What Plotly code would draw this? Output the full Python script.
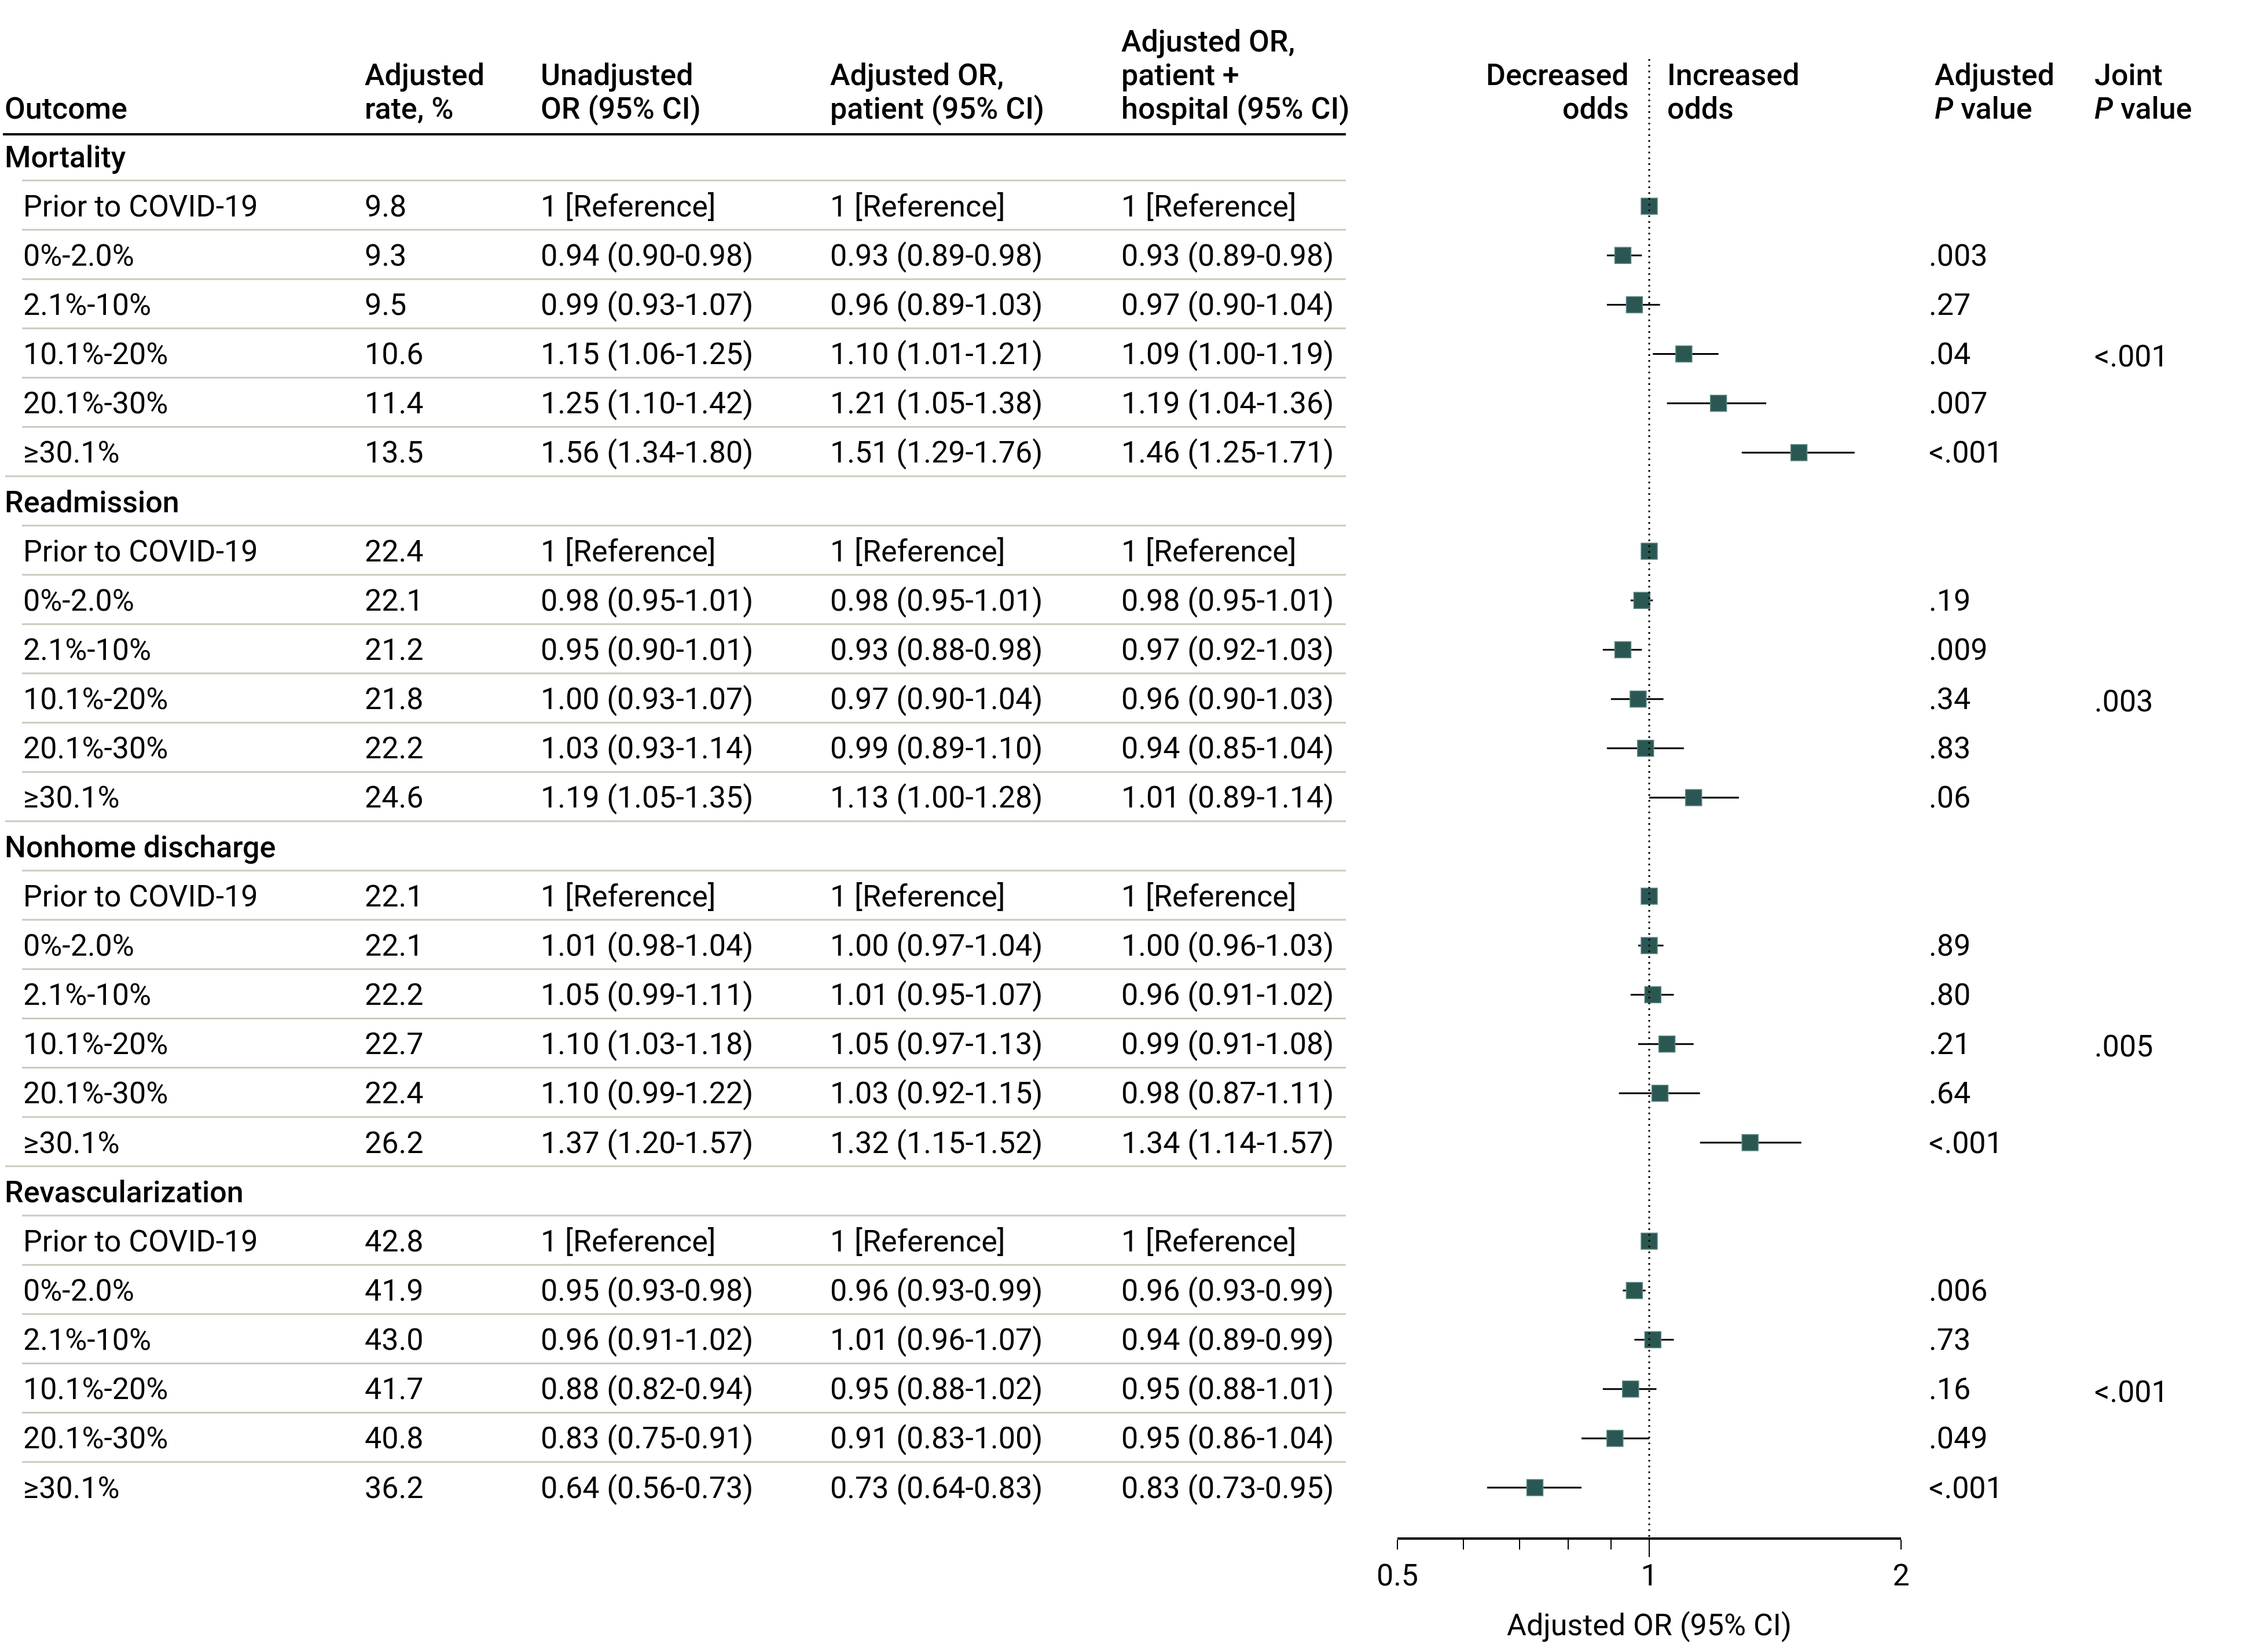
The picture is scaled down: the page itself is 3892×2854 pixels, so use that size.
import plotly.graph_objects as go

# ---------------- data ----------------
outcomes = ["Mortality", "Readmission", "Nonhome discharge", "Revascularization"]
strata = ["Prior to COVID-19", "0%-2.0%", "2.1%-10%", "10.1%-20%", "20.1%-30%", "≥30.1%"]

# values listed outcome by outcome (Mortality, Readmission, Nonhome discharge, Revascularization),
# each with the 6 strata in order; None = reference group
adj_rate = [9.8, 9.3, 9.5, 10.6, 11.4, 13.5,
            22.4, 22.1, 21.2, 21.8, 22.2, 24.6,
            22.1, 22.1, 22.2, 22.7, 22.4, 26.2,
            42.8, 41.9, 43.0, 41.7, 40.8, 36.2]

unadj_or = [None, 0.94, 0.99, 1.15, 1.25, 1.56,
            None, 0.98, 0.95, 1.00, 1.03, 1.19,
            None, 1.01, 1.05, 1.10, 1.10, 1.37,
            None, 0.95, 0.96, 0.88, 0.83, 0.64]
unadj_lo = [None, 0.90, 0.93, 1.06, 1.10, 1.34,
            None, 0.95, 0.90, 0.93, 0.93, 1.05,
            None, 0.98, 0.99, 1.03, 0.99, 1.20,
            None, 0.93, 0.91, 0.82, 0.75, 0.56]
unadj_hi = [None, 0.98, 1.07, 1.25, 1.42, 1.80,
            None, 1.01, 1.01, 1.07, 1.14, 1.35,
            None, 1.04, 1.11, 1.18, 1.22, 1.57,
            None, 0.98, 1.02, 0.94, 0.91, 0.73]

pat_or = [None, 0.93, 0.96, 1.10, 1.21, 1.51,
          None, 0.98, 0.93, 0.97, 0.99, 1.13,
          None, 1.00, 1.01, 1.05, 1.03, 1.32,
          None, 0.96, 1.01, 0.95, 0.91, 0.73]
pat_lo = [None, 0.89, 0.89, 1.01, 1.05, 1.29,
          None, 0.95, 0.88, 0.90, 0.89, 1.00,
          None, 0.97, 0.95, 0.97, 0.92, 1.15,
          None, 0.93, 0.96, 0.88, 0.83, 0.64]
pat_hi = [None, 0.98, 1.03, 1.21, 1.38, 1.76,
          None, 1.01, 0.98, 1.04, 1.10, 1.28,
          None, 1.04, 1.07, 1.13, 1.15, 1.52,
          None, 0.99, 1.07, 1.02, 1.00, 0.83]

hosp_or = [None, 0.93, 0.97, 1.09, 1.19, 1.46,
           None, 0.98, 0.97, 0.96, 0.94, 1.01,
           None, 1.00, 0.96, 0.99, 0.98, 1.34,
           None, 0.96, 0.94, 0.95, 0.95, 0.83]
hosp_lo = [None, 0.89, 0.90, 1.00, 1.04, 1.25,
           None, 0.95, 0.92, 0.90, 0.85, 0.89,
           None, 0.96, 0.91, 0.91, 0.87, 1.14,
           None, 0.93, 0.89, 0.88, 0.86, 0.73]
hosp_hi = [None, 0.98, 1.04, 1.19, 1.36, 1.71,
           None, 1.01, 1.03, 1.03, 1.04, 1.14,
           None, 1.03, 1.02, 1.08, 1.11, 1.57,
           None, 0.99, 0.99, 1.01, 1.04, 0.95]

p_adjusted = ["", ".003", ".27", ".04", ".007", "<.001",
              "", ".19", ".009", ".34", ".83", ".06",
              "", ".89", ".80", ".21", ".64", "<.001",
              "", ".006", ".73", ".16", ".049", "<.001"]
p_joint = ["<.001", ".003", ".005", "<.001"]

axis_ticks = [0.5, 1, 2]
axis_minor_ticks = [0.6, 0.7, 0.8, 0.9]

# ---------------- layout constants ----------------
W, H = 3892, 2854
ROW0, PITCH = 271.0, 85.15          # pixel centre of first row, row pitch
FONT = "Roboto, Lato, 'Liberation Sans', sans-serif"
FS = 52
MARKER = "#2b5753"
GRID = "#c8ccbd"


def prow(px):
    return (px - ROW0) / PITCH


def px(x):
    return x / W


COL_OUT, COL_SUB, COL_RATE, COL_UN, COL_PAT, COL_HOSP = 6, 38, 628, 932, 1432, 1935
COL_P, COL_J = 3330, 3616
TABLE_END = 2325


def fmt_or(o, l, h):
    if o is None:
        return "1 [Reference]"
    return f"{o:.2f} ({l:.2f}-{h:.2f})"


annotations = []


def add_text(x, y, text, anchor="left", weight=400):
    annotations.append(dict(
        x=px(x), xref="paper", y=y, yref="y", xanchor=anchor, yanchor="middle",
        text=text, showarrow=False,
        font=dict(family=FONT, size=FS, color="black", weight=weight)))


# header lines (caps centres at about 71, 129, 187 px)
HL = [prow(71.5), prow(129.5), prow(187.5)]
HW = 500
add_text(COL_OUT, HL[2], "Outcome", weight=HW)
add_text(COL_RATE, HL[1], "Adjusted", weight=HW)
add_text(COL_RATE, HL[2], "rate, %", weight=HW)
add_text(COL_UN, HL[1], "Unadjusted", weight=HW)
add_text(COL_UN, HL[2], "OR (95% CI)", weight=HW)
add_text(COL_PAT, HL[1], "Adjusted OR,", weight=HW)
add_text(COL_PAT, HL[2], "patient (95% CI)", weight=HW)
add_text(COL_HOSP, HL[0], "Adjusted OR,", weight=HW)
add_text(COL_HOSP, HL[1], "patient +", weight=HW)
add_text(COL_HOSP, HL[2], "hospital (95% CI)", weight=HW)
add_text(2816, HL[1], "Decreased", anchor="right", weight=HW)
add_text(2816, HL[2], "odds", anchor="right", weight=HW)
add_text(2878, HL[1], "Increased", weight=HW)
add_text(2878, HL[2], "odds", weight=HW)
add_text(COL_P + 10, HL[1], "Adjusted", weight=HW)
add_text(COL_P + 10, HL[2], "<i>P</i> value", weight=HW)
add_text(COL_J, HL[1], "Joint", weight=HW)
add_text(COL_J, HL[2], "<i>P</i> value", weight=HW)

shapes = []
# thick header rule
shapes.append(dict(type="line", xref="paper", yref="y", x0=px(5), x1=px(TABLE_END),
                   y0=prow(232), y1=prow(232), line=dict(color="black", width=4)))

rows_y, rows_or, err_plus, err_minus = [], [], [], []
for g, name in enumerate(outcomes):
    r0 = g * 7
    add_text(COL_OUT, r0, name, weight=HW)
    for s, lab in enumerate(strata):
        k = g * 6 + s
        r = r0 + 1 + s
        add_text(COL_SUB, r, lab)
        add_text(COL_RATE, r, f"{adj_rate[k]:.1f}")
        add_text(COL_UN, r, fmt_or(unadj_or[k], unadj_lo[k], unadj_hi[k]))
        add_text(COL_PAT, r, fmt_or(pat_or[k], pat_lo[k], pat_hi[k]))
        add_text(COL_HOSP, r, fmt_or(hosp_or[k], hosp_lo[k], hosp_hi[k]))
        if p_adjusted[k]:
            add_text(COL_P, r, p_adjusted[k])
        shapes.append(dict(type="line", xref="paper", yref="y", x0=px(38), x1=px(TABLE_END),
                           y0=r - 0.52, y1=r - 0.52, line=dict(color=GRID, width=3)))
        o = pat_or[k] if pat_or[k] is not None else 1.0
        rows_y.append(r)
        rows_or.append(o)
        err_plus.append((pat_hi[k] - o) if pat_hi[k] is not None else 0)
        err_minus.append((o - pat_lo[k]) if pat_lo[k] is not None else 0)
    add_text(COL_J, r0 + 4.05, p_joint[g])
    if g < len(outcomes) - 1:
        shapes.append(dict(type="line", xref="paper", yref="y", x0=px(9), x1=px(TABLE_END),
                           y0=r0 + 7 - 0.52, y1=r0 + 7 - 0.52, line=dict(color=GRID, width=3)))

fig = go.Figure()
fig.add_trace(go.Scatter(
    x=rows_or, y=rows_y, mode="markers",
    marker=dict(symbol="square", size=28, color=MARKER, line=dict(color="#5e8884", width=1.5)),
    error_x=dict(type="data", symmetric=False, array=err_plus, arrayminus=err_minus,
                 color="black", thickness=3, width=0),
    showlegend=False, hoverinfo="skip"))

# reference line at OR = 1
AXIS_Y = 2658
fig.add_trace(go.Scatter(
    x=[1, 1], y=[prow(102), prow(AXIS_Y)], mode="lines",
    line=dict(color="black", width=3, dash="3px,7px"),
    showlegend=False, hoverinfo="skip"))

# helper trace for the long tick at 1
fig.add_trace(go.Scatter(x=[1], y=[prow(AXIS_Y)], xaxis="x2", mode="markers",
                         marker=dict(opacity=0), showlegend=False, hoverinfo="skip"))

xdom = [px(2414), px(3284)]
xpos = (H - AXIS_Y) / H
fig.update_layout(
    width=W, height=H, margin=dict(l=0, r=0, t=0, b=0),
    paper_bgcolor="white", plot_bgcolor="white",
    font=dict(family=FONT, size=FS, color="black"),
    showlegend=False,
    xaxis=dict(type="log", range=[-0.30103, 0.30103], domain=xdom, anchor="free", position=xpos,
               showline=True, linecolor="black", linewidth=4, showgrid=False, zeroline=False,
               tickmode="array", tickvals=axis_ticks, ticktext=[str(t) for t in axis_ticks],
               ticks="outside", ticklen=17, tickwidth=2, tickcolor="black",
               tickfont=dict(family=FONT, size=FS, color="black"),
               minor=dict(tickmode="array", tickvals=axis_minor_ticks, ticks="outside",
                          ticklen=17, tickwidth=2, tickcolor="black", showgrid=False),
               title=dict(text="Adjusted OR (95% CI)", standoff=36,
                          font=dict(family=FONT, size=FS, color="black")),
               automargin=False, fixedrange=True),
    xaxis2=dict(type="log", range=[-0.30103, 0.30103], domain=xdom, anchor="free", position=xpos,
                overlaying="x", showline=False, showgrid=False, zeroline=False,
                tickmode="array", tickvals=[1], ticks="outside", ticklen=31, tickwidth=2,
                tickcolor="black", showticklabels=False, automargin=False, fixedrange=True),
    yaxis=dict(range=[prow(H), prow(0)], domain=[0, 1], visible=False, showgrid=False,
               zeroline=False, automargin=False, fixedrange=True),
    annotations=annotations,
    shapes=shapes,
)

fig.write_html("out.html", post_script="document.body.style.margin='0px';",
               config={"displayModeBar": False, "staticPlot": True})
